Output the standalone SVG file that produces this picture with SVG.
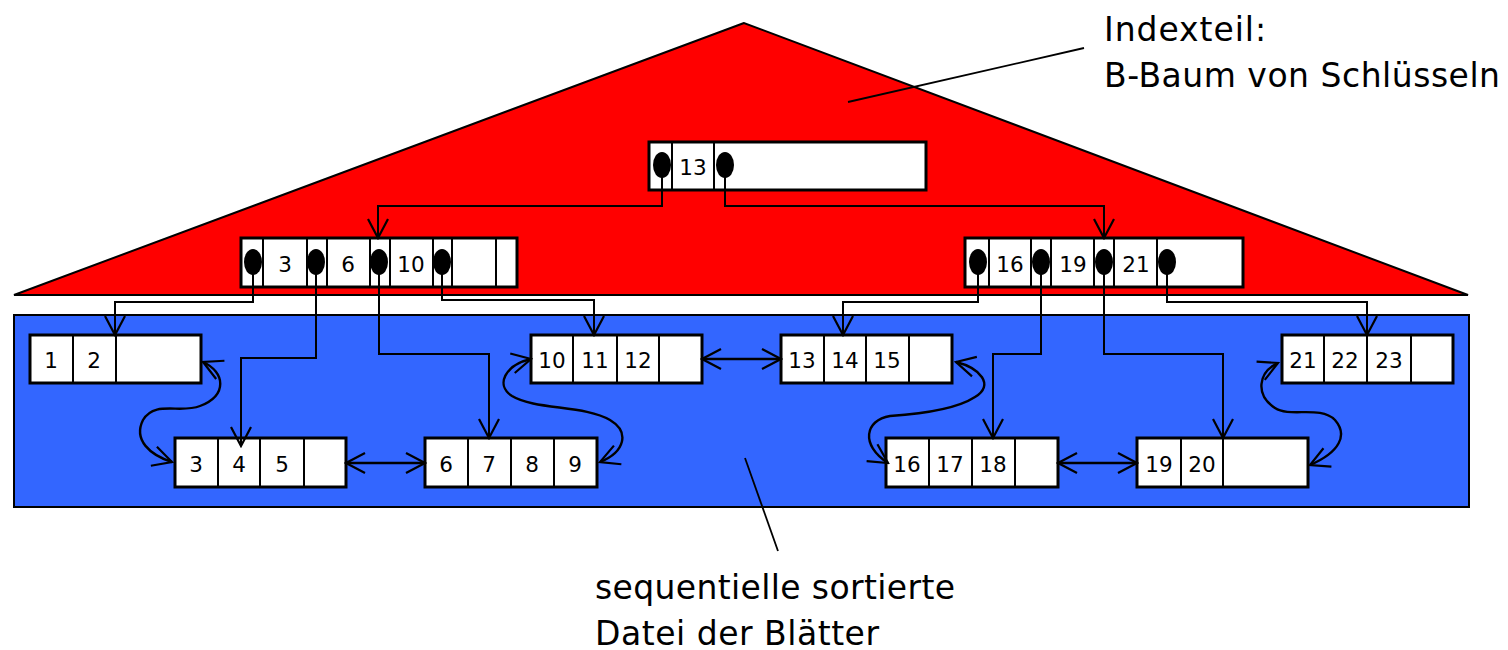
<svg xmlns="http://www.w3.org/2000/svg" width="1508" height="650" viewBox="0 0 1508 650">
  <style>
    .box { fill: #fff; stroke: #000; stroke-width: 3; }
    .div { stroke: #000; stroke-width: 2; }
    .ptr { fill: #000; }
    .num { font-family: "DejaVu Sans", Verdana, sans-serif; font-size: 21.5px; fill: #000; text-anchor: middle; dominant-baseline: central; }
    .lbl { font-family: "DejaVu Sans", Verdana, sans-serif; font-size: 33px; fill: #000; }
    .tree { fill: none; stroke: #000; stroke-width: 2; marker-end: url(#arr); }
    .link { fill: none; stroke: #000; stroke-width: 2.4; marker-start: url(#arr); marker-end: url(#arr); }
    .call { fill: none; stroke: #000; stroke-width: 1.8; }
  </style>
  <defs>
    <marker id="arr" viewBox="-22 -12 24 24" refX="0" refY="0" markerWidth="24" markerHeight="24" markerUnits="userSpaceOnUse" orient="auto-start-reverse">
      <path d="M-19,-10 L0,0 L-19,10" fill="none" stroke="#000" stroke-width="2.2"/>
    </marker>
  </defs>

  <!-- index part: triangle -->
  <polygon id="index-area" points="744,23 14,295 1468,295" fill="#ff0000" stroke="#000" stroke-width="2"/>
  <!-- leaf file area -->
  <rect id="leaf-area" x="14" y="315" width="1455" height="192" fill="#3366ff" stroke="#000" stroke-width="2"/>

  <!-- root node -->
  <g id="root">
    <rect class="box" x="649" y="142" width="277" height="48"/>
    <line class="div" x1="672" y1="142" x2="672" y2="190"/>
    <line class="div" x1="714" y1="142" x2="714" y2="190"/>
    <text class="num" x="693" y="167">13</text>
    <ellipse class="ptr" cx="662" cy="165" rx="9" ry="13"/>
    <ellipse class="ptr" cx="725" cy="165" rx="9" ry="13"/>
  </g>

  <!-- inner node 3 6 10 -->
  <g id="inner-left">
    <rect class="box" x="241" y="238" width="276" height="49"/>
    <line class="div" x1="263" y1="238" x2="263" y2="287"/>
    <line class="div" x1="307" y1="238" x2="307" y2="287"/>
    <line class="div" x1="327" y1="238" x2="327" y2="287"/>
    <line class="div" x1="370" y1="238" x2="370" y2="287"/>
    <line class="div" x1="390" y1="238" x2="390" y2="287"/>
    <line class="div" x1="433" y1="238" x2="433" y2="287"/>
    <line class="div" x1="452" y1="238" x2="452" y2="287"/>
    <line class="div" x1="496" y1="238" x2="496" y2="287"/>
    <text class="num" x="285" y="264">3</text>
    <text class="num" x="348" y="264">6</text>
    <text class="num" x="411" y="264">10</text>
    <ellipse class="ptr" cx="253" cy="262" rx="9" ry="13"/>
    <ellipse class="ptr" cx="316" cy="262" rx="9" ry="13"/>
    <ellipse class="ptr" cx="379" cy="262" rx="9" ry="13"/>
    <ellipse class="ptr" cx="442" cy="262" rx="9" ry="13"/>
  </g>

  <!-- inner node 16 19 21 -->
  <g id="inner-right">
    <rect class="box" x="965" y="238" width="278" height="49"/>
    <line class="div" x1="989" y1="238" x2="989" y2="287"/>
    <line class="div" x1="1031" y1="238" x2="1031" y2="287"/>
    <line class="div" x1="1051" y1="238" x2="1051" y2="287"/>
    <line class="div" x1="1094" y1="238" x2="1094" y2="287"/>
    <line class="div" x1="1114" y1="238" x2="1114" y2="287"/>
    <line class="div" x1="1157" y1="238" x2="1157" y2="287"/>
    <text class="num" x="1010" y="264">16</text>
    <text class="num" x="1073" y="264">19</text>
    <text class="num" x="1136" y="264">21</text>
    <ellipse class="ptr" cx="978" cy="262" rx="9" ry="13"/>
    <ellipse class="ptr" cx="1041" cy="262" rx="9" ry="13"/>
    <ellipse class="ptr" cx="1104" cy="262" rx="9" ry="13"/>
    <ellipse class="ptr" cx="1167" cy="262" rx="9" ry="13"/>
  </g>

  <!-- leaves -->
  <g id="leaf-1-2">
    <rect class="box" x="30" y="335" width="171" height="48"/>
    <line class="div" x1="73" y1="335" x2="73" y2="383"/>
    <line class="div" x1="116" y1="335" x2="116" y2="383"/>
    <text class="num" x="51" y="360">1</text>
    <text class="num" x="94" y="360">2</text>
  </g>
  <g id="leaf-3-5">
    <rect class="box" x="175" y="438" width="171" height="49"/>
    <line class="div" x1="218" y1="438" x2="218" y2="487"/>
    <line class="div" x1="260" y1="438" x2="260" y2="487"/>
    <line class="div" x1="304" y1="438" x2="304" y2="487"/>
    <text class="num" x="196" y="464">3</text>
    <text class="num" x="239" y="464">4</text>
    <text class="num" x="282" y="464">5</text>
  </g>
  <g id="leaf-6-9">
    <rect class="box" x="425" y="438" width="172" height="49"/>
    <line class="div" x1="468" y1="438" x2="468" y2="487"/>
    <line class="div" x1="511" y1="438" x2="511" y2="487"/>
    <line class="div" x1="554" y1="438" x2="554" y2="487"/>
    <text class="num" x="446" y="464">6</text>
    <text class="num" x="489" y="464">7</text>
    <text class="num" x="532" y="464">8</text>
    <text class="num" x="575" y="464">9</text>
  </g>
  <g id="leaf-10-12">
    <rect class="box" x="531" y="335" width="171" height="48"/>
    <line class="div" x1="573" y1="335" x2="573" y2="383"/>
    <line class="div" x1="617" y1="335" x2="617" y2="383"/>
    <line class="div" x1="659" y1="335" x2="659" y2="383"/>
    <text class="num" x="552" y="360">10</text>
    <text class="num" x="595" y="360">11</text>
    <text class="num" x="638" y="360">12</text>
  </g>
  <g id="leaf-13-15">
    <rect class="box" x="781" y="335" width="171" height="48"/>
    <line class="div" x1="824" y1="335" x2="824" y2="383"/>
    <line class="div" x1="866" y1="335" x2="866" y2="383"/>
    <line class="div" x1="909" y1="335" x2="909" y2="383"/>
    <text class="num" x="802" y="360">13</text>
    <text class="num" x="845" y="360">14</text>
    <text class="num" x="887" y="360">15</text>
  </g>
  <g id="leaf-16-18">
    <rect class="box" x="886" y="438" width="172" height="49"/>
    <line class="div" x1="929" y1="438" x2="929" y2="487"/>
    <line class="div" x1="972" y1="438" x2="972" y2="487"/>
    <line class="div" x1="1015" y1="438" x2="1015" y2="487"/>
    <text class="num" x="907" y="464">16</text>
    <text class="num" x="950" y="464">17</text>
    <text class="num" x="993" y="464">18</text>
  </g>
  <g id="leaf-19-20">
    <rect class="box" x="1137" y="438" width="171" height="49"/>
    <line class="div" x1="1181" y1="438" x2="1181" y2="487"/>
    <line class="div" x1="1223" y1="438" x2="1223" y2="487"/>
    <text class="num" x="1159" y="464">19</text>
    <text class="num" x="1202" y="464">20</text>
  </g>
  <g id="leaf-21-23">
    <rect class="box" x="1282" y="335" width="171" height="48"/>
    <line class="div" x1="1324" y1="335" x2="1324" y2="383"/>
    <line class="div" x1="1367" y1="335" x2="1367" y2="383"/>
    <line class="div" x1="1411" y1="335" x2="1411" y2="383"/>
    <text class="num" x="1303" y="360">21</text>
    <text class="num" x="1345" y="360">22</text>
    <text class="num" x="1389" y="360">23</text>
  </g>

  <!-- connectors -->
  <g id="connectors">
    <path class="tree" d="M662,170 V206 H378 V238"/>
    <path class="tree" d="M725,170 V206 H1104 V238"/>
    <path class="tree" d="M253,266 V302 H115 V335"/>
    <path class="tree" d="M316,266 V358 H241 V446"/>
    <path class="tree" d="M379,266 V354 H489 V438"/>
    <path class="tree" d="M442,266 V300 H594 V335"/>
    <path class="tree" d="M978,266 V302 H843 V335"/>
    <path class="tree" d="M1041,266 V354 H993 V438"/>
    <path class="tree" d="M1104,266 V354 H1223 V438"/>
    <path class="tree" d="M1167,266 V302 H1367 V335"/>

    <line class="link" x1="346" y1="463" x2="425" y2="463"/>
    <line class="link" x1="702" y1="359" x2="781" y2="359"/>
    <line class="link" x1="1058" y1="463" x2="1137" y2="463"/>

    <path class="link" d="M203,362 C225,372 228,395 200,406 C180,414 155,400 143,420 C133,440 150,455 172,462"/>
    <path class="link" d="M531,359 C505,365 495,385 512,396 C535,410 585,405 610,420 C630,432 625,452 600,462"/>
    <path class="link" d="M956,362 C980,368 995,385 975,397 C955,410 920,414 890,416 C865,420 860,445 888,463"/>
    <path class="link" d="M1278,363 C1258,372 1255,395 1275,408 C1290,418 1320,405 1335,420 C1348,435 1340,452 1310,465"/>
  </g>

  <!-- callouts -->
  <g id="callout-index">
    <line class="call" x1="848" y1="102" x2="1084" y2="48"/>
    <text class="lbl" x="1104" y="41" textLength="162" lengthAdjust="spacing">Indexteil:</text>
    <text class="lbl" x="1104" y="87" textLength="396" lengthAdjust="spacing">B-Baum von Schlüsseln</text>
  </g>
  <g id="callout-leaves">
    <line class="call" x1="745" y1="458" x2="778" y2="551"/>
    <text class="lbl" x="595" y="599" textLength="360" lengthAdjust="spacing">sequentielle sortierte</text>
    <text class="lbl" x="595" y="645" textLength="284" lengthAdjust="spacing">Datei der Blätter</text>
  </g>
</svg>
